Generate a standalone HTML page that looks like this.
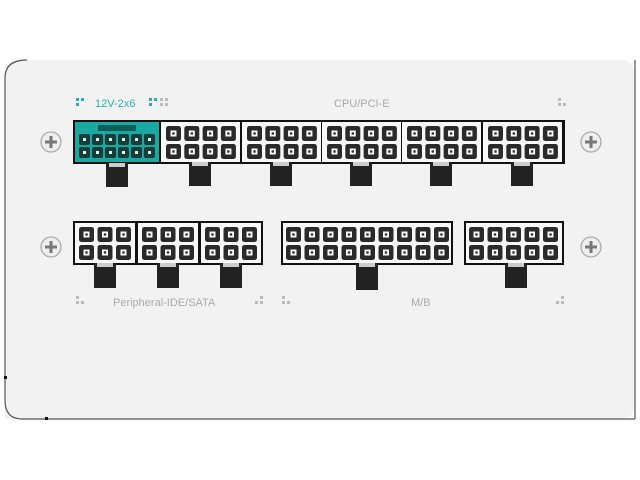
<!DOCTYPE html>
<html><head><meta charset="utf-8"><style>
html,body{margin:0;padding:0;background:#fff;width:640px;height:480px;overflow:hidden}
svg{display:block}
text{font-family:"Liberation Sans",sans-serif;font-size:11px}
</style></head><body>
<svg id="s" width="640" height="480" viewBox="0 0 640 480" xmlns="http://www.w3.org/2000/svg">
<rect x="0" y="0" width="640" height="480" fill="#fff"/>
<path d="M5,419 L5,75 Q5,60 20,60 L620,60 Q635,60 635,75 L635,405 Q635,419 620,419 Z" fill="#f2f2f2"/>
<path d="M5,78 Q5,60 27,60 M5,78 L5,400 Q5,419 22,419 L635,419 M635,60 L635,419" fill="none" stroke="#555" stroke-width="1.2"/>
<rect x="4" y="376" width="3" height="3" fill="#111"/><rect x="45" y="417" width="3" height="3" fill="#111"/>
<text x="95" y="107" fill="#2ab0aa" font-size="11.5">12V-2x6</text>
<text x="334" y="107" fill="#aaa">CPU/PCI-E</text>
<text x="113" y="306" fill="#aaa">Peripheral-IDE/SATA</text>
<text x="411" y="306" fill="#aaa">M/B</text>
<g id="g"></g>
</svg>
<script>
var g=document.getElementById('g'),h='';
function R(x,y,w,hh,f,extra){h+='<rect x="'+x+'" y="'+y+'" width="'+w+'" height="'+hh+'" fill="'+f+'" '+(extra||'')+'/>';}
function dots(x,y,c,pat){var p=pat||[[0,0],[5,0],[0,5]];p.forEach(function(a){R(x+a[0],y+a[1],3,3,c)});}
dots(76,98,'#2ab0aa');dots(149,98,'#2ab0aa');dots(160,98,'#bbb',[[0,0],[5,0],[5,5],[0,5]]);
dots(558,98,'#bbb',[[0,0],[5,5],[0,5]]);
dots(76,296,'#bbb',[[0,0],[0,5],[5,5]]);dots(255,296,'#bbb',[[5,0],[0,5],[5,5]]);
dots(282,296,'#bbb',[[0,0],[0,5],[5,5]]);dots(556,296,'#bbb',[[5,0],[0,5],[5,5]]);
function screw(cx,cy){h+='<circle cx="'+cx+'" cy="'+cy+'" r="10" fill="#eee" stroke="#aaa" stroke-width="1.3"/>';
h+='<path d="M'+(cx-6)+','+cy+'h12M'+cx+','+(cy-6)+'v12" stroke="#777" stroke-width="3"/>';}
screw(51,142);screw(591,142);screw(51,247);screw(591,247);
function tab(cx,y,y2){R(cx-11,y,22,y2-y,'#222');R(cx-8,y,16,4,'#ccc');}
function pins(x0,y0,cols,rows,px,py,cw,dark){for(var r=0;r<rows;r++)for(var c=0;c<cols;c++){var x=x0+c*px,y=y0+r*py;
R(x,y,cw,cw,'#2a2a2a','rx="2.5"');R(x+cw/2-3,y+cw/2-3,6,6,'#fff');R(x+cw/2-1.2,y+cw/2-1.2,2.4,2.4,'#333');}}
// top row
R(73,120,492,44,'#111');
R(75,122,84,40,'#1aa8a0');R(98,125,38,6,'#0d5e58');
for(var i=0;i<6;i++){var x=79+i*13;R(x,134,11,11,'#173c3a','rx="2"');R(x+4,138,3,3,'#cfe');R(x,147,11,11,'#173c3a','rx="2"');R(x+4,151,3,3,'#cfe');}
tab(117,163,187);
var bx=[161,242,322,402,483];
bx.forEach(function(x){R(x,122,79,40,'#f8f8f8');pins(x+5,126,4,2,18.3,18,15);tab(x+39,162,186);});
// bottom row
R(73,221,190,44,'#111');
[75,138,201].forEach(function(x){R(x,223,60,40,'#f8f8f8');pins(x+4,227,3,2,18.5,18,15);tab(x+30,263,288);});
R(281,221,172,44,'#111');R(283,223,168,40,'#f8f8f8');pins(286,227,9,2,18.5,18,15);tab(367,263,290);
R(464,221,100,44,'#111');R(466,223,96,40,'#f8f8f8');pins(469,227,5,2,18.5,18,15);tab(516,263,288);
g.innerHTML=h;
</script>
</body></html>
